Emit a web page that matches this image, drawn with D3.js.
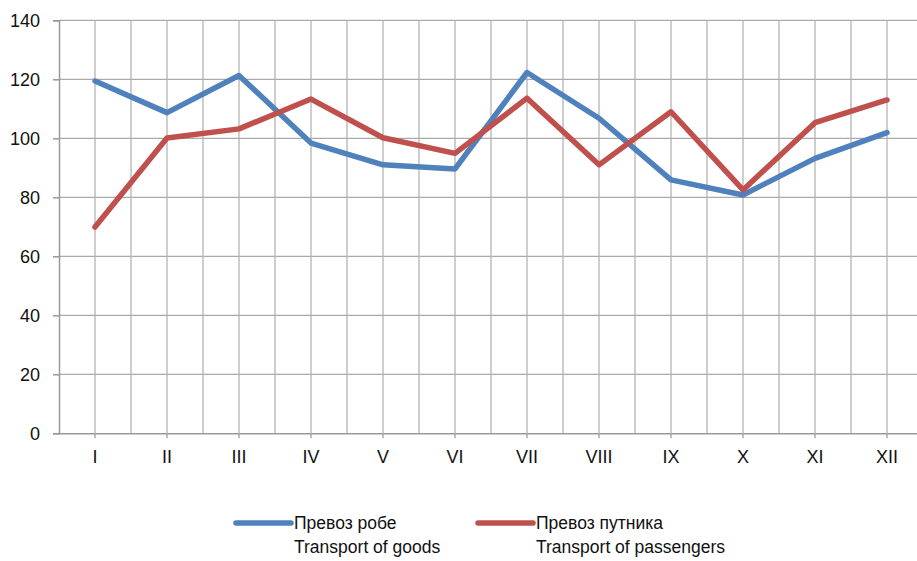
<!DOCTYPE html>
<html><head><meta charset="utf-8">
<script src="https://cdn.jsdelivr.net/npm/d3@7/dist/d3.min.js"></script>
<style>body{margin:0;background:#fff;overflow:hidden}svg{display:block}</style>
</head><body><svg id="c" width="917" height="561"></svg>
<script>
const months = ["I","II","III","IV","V","VI","VII","VIII","IX","X","XI","XII"];
const goods = [119.4,108.7,121.3,98.4,91,89.6,122.3,106.8,85.9,80.8,93.2,101.9];
const passengers = [69.9,100.1,103.2,113.3,100.2,94.9,113.6,91,109,82.5,105.3,113];
const yTicks = [0,20,40,60,80,100,120,140];
const seriesNames = [["Превоз робе","Transport of goods"],["Превоз путника","Transport of passengers"]];
const colors = ["#4F81BD","#C0504D"];

const font = "'Liberation Sans Narrow','Arial Narrow','Liberation Sans',Arial,sans-serif";
const svg = d3.select("#c");
const L = 59, T = 20.3, B = 433.3, band = 72;
const x = d3.scaleBand().domain(months).range([L, L + band*months.length]).padding(0);
const y = d3.scaleLinear().domain([0,140]).range([B, T]);
const cx = m => x(m) + x.bandwidth()/2;

const g = svg.append("g");
g.selectAll(".hg").data(yTicks.filter(d=>d>0)).join("line")
  .attr("x1", L).attr("x2", 917).attr("y1", d=>y(d)).attr("y2", d=>y(d))
  .attr("stroke", "#aaa").attr("stroke-width", 1.3);
const vlines = [];
months.forEach(m => { vlines.push(cx(m)); vlines.push(x(m)+x.bandwidth()); });
g.selectAll(".vg").data(vlines).join("line")
  .attr("x1", d=>d).attr("x2", d=>d).attr("y1", T).attr("y2", B)
  .attr("stroke", "#b4b4b4").attr("stroke-width", 1.3);

const ya = svg.append("g").attr("transform", `translate(${L},0)`)
  .call(d3.axisLeft(y).tickValues(yTicks).tickSize(6).tickPadding(13));
ya.select(".domain").attr("stroke", "#999").attr("stroke-width", 1.5);
ya.selectAll(".tick line").attr("stroke", "#999").attr("stroke-width", 1.5);
ya.selectAll("text").attr("font-family", font).attr("font-size", 18).attr("fill", "#111");

const xa = svg.append("g").attr("transform", `translate(0,${B})`)
  .call(d3.axisBottom(x).tickSize(5).tickPadding(12).tickSizeOuter(0));
xa.select(".domain").attr("stroke", "#999").attr("stroke-width", 1.5).attr("d", `M${L},0.5H917`);
xa.selectAll(".tick line").attr("stroke", "#aaa").attr("stroke-width", 1.5);
xa.selectAll("text").attr("font-family", font).attr("font-size", 18).attr("fill", "#111");

const line = d3.line().x((d,i)=>cx(months[i])).y(d=>y(d));
[goods, passengers].forEach((s,i) => {
  svg.append("path").datum(s).attr("d", line)
    .attr("fill","none").attr("stroke", colors[i]).attr("stroke-width", 5.5)
    .attr("stroke-linejoin","round").attr("stroke-linecap","round");
});

const legX = [236, 478];
seriesNames.forEach((nm,i) => {
  const lg = svg.append("g").attr("transform", `translate(${legX[i]},523)`);
  lg.append("line").attr("x1",0).attr("x2",55).attr("y1",0).attr("y2",0)
    .attr("stroke", colors[i]).attr("stroke-width",5.5).attr("stroke-linecap","round");
  const t = lg.append("text").attr("x",58).attr("y",6).attr("font-family",font)
    .attr("font-size",17.5).attr("fill","#111");
  t.append("tspan").attr("x",58).text(nm[0]);
  t.append("tspan").attr("x",58).attr("dy",24).text(nm[1]);
});
</script></body></html>
